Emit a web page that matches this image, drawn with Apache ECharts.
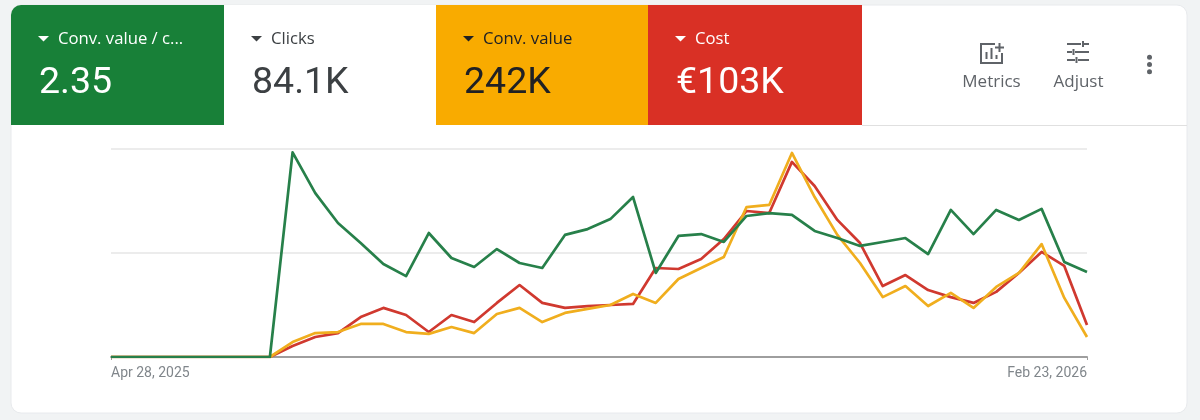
<!DOCTYPE html>
<html>
<head>
<meta charset="utf-8">
<style>html,body{margin:0;padding:0;background:#f1f3f4}#c{width:1200px;height:420px}</style>
<script src="https://cdn.jsdelivr.net/npm/echarts@6/dist/echarts.min.js"></script>
</head>
<body>
<div id="c"></div>
<script>
const categories = ['Apr 28, 2025','May 5','May 12','May 19','May 26','Jun 2','Jun 9','Jun 16','Jun 23','Jun 30','Jul 7','Jul 14','Jul 21','Jul 28','Aug 4','Aug 11','Aug 18','Aug 25','Sep 1','Sep 8','Sep 15','Sep 22','Sep 29','Oct 6','Oct 13','Oct 20','Oct 27','Nov 3','Nov 10','Nov 17','Nov 24','Dec 1','Dec 8','Dec 15','Dec 22','Dec 29','Jan 5','Jan 12','Jan 19','Jan 26','Feb 2','Feb 9','Feb 16','Feb 23, 2026'];
const convValuePerCost = [0,0,0,0,0,0,0,0,98.4,78.8,64.4,54.8,44.7,38.9,59.6,47.6,43.3,51.9,45.2,42.8,58.7,61.5,66.3,76.9,40.4,58.2,59.1,55.3,67.8,69.2,68.3,60.6,57.2,53.4,55.3,57.2,49.5,70.7,59.1,70.7,65.9,71.2,45.7,40.9];
const cost = [0,0,0,0,0,0,0,0,5.3,9.6,11.5,19.2,23.6,20.2,12,20.2,16.8,26,34.6,26,23.6,24.5,25,25.5,42.8,42.3,47.1,56.7,70.2,69.2,93.8,82.2,65.9,54.8,34.1,39.4,32.2,28.8,26,31.3,40.4,50.5,43.8,15.4];
const convValue = [0,0,0,0,0,0,0,0,7.2,11.5,12,15.9,15.9,12,11.1,14.4,11.5,20.7,23.6,16.8,21.2,23.1,25,30.3,26,37.5,42.8,48.1,72.1,73.1,98.1,76.9,58.7,45.2,28.8,34.1,24.5,30.8,23.6,33.7,40.4,54.3,28.4,9.6];
const tiles = [
  {label:'Conv. value / c...', value:'2.35', x:11, w:213, bg:'#188038', fg:'#ffffff'},
  {label:'Clicks', value:'84.1K', x:224, w:212, bg:'#ffffff', fg:'#3c4043'},
  {label:'Conv. value', value:'242K', x:436, w:212, bg:'#f9ab00', fg:'#202124'},
  {label:'Cost', value:'€103K', x:648, w:214, bg:'#d93025', fg:'#ffffff'}
];
const iconColor = '#5f6368';
const g = [];
g.push({type:'rect',z:0,shape:{x:11,y:5,width:1176,height:408,r:10},style:{fill:'#fff',stroke:'#e8eaed',lineWidth:1}});
tiles.forEach((t,i)=>{
  const r = i===0 ? [10,0,0,0] : 0;
  g.push({type:'rect',z:1,shape:{x:t.x,y:5,width:t.w,height:120,r:r},style:{fill:t.bg}});
  g.push({type:'polygon',z:2,shape:{points:[[t.x+27,36],[t.x+38,36],[t.x+32.5,41.5]]},style:{fill:t.fg}});
  g.push({type:'text',z:2,style:{x:t.x+47,y:39.5,text:t.label,fill:t.fg,font:'16.7px "Open Sans", Roboto, sans-serif',textVerticalAlign:'middle',textBaseline:'middle'}});
  g.push({type:'text',z:2,style:{x:t.x+28,y:84,text:t.value,fill:t.fg,font:'37.5px Roboto, sans-serif',textVerticalAlign:'middle',textBaseline:'middle'}});
});
g.push({type:'line',z:1,shape:{x1:862,y1:125.5,x2:1187,y2:125.5},style:{stroke:'#e0e0e0',lineWidth:1}});
const st = {fill:'none',stroke:iconColor,lineWidth:2};
g.push({type:'polyline',z:2,shape:{points:[[995,44],[981,44],[981,63],[1002,63],[1002,53]]},style:st});
g.push({type:'line',z:2,shape:{x1:986.5,y1:52,x2:986.5,y2:59},style:st});
g.push({type:'line',z:2,shape:{x1:991.5,y1:48,x2:991.5,y2:59},style:st});
g.push({type:'line',z:2,shape:{x1:996.5,y1:55,x2:996.5,y2:59},style:st});
g.push({type:'line',z:2,shape:{x1:999.5,y1:43,x2:999.5,y2:52},style:st});
g.push({type:'line',z:2,shape:{x1:995,y1:47.5,x2:1004,y2:47.5},style:st});
g.push({type:'text',z:2,style:{x:991.5,y:82.5,text:'Metrics',fill:iconColor,font:'17px "Open Sans", Roboto, sans-serif',textAlign:'center',textVerticalAlign:'middle',textBaseline:'middle'}});
[[1067,44,1081],[1084,44,1089],[1067,52,1072],[1075,52,1089],[1067,60,1075],[1078,60,1089]].forEach(a=>{
  g.push({type:'line',z:2,shape:{x1:a[0],y1:a[1],x2:a[2],y2:a[1]},style:st});
});
[[1083,41,47],[1073.5,49,55],[1076.5,57,63]].forEach(a=>{
  g.push({type:'line',z:2,shape:{x1:a[0],y1:a[1],x2:a[0],y2:a[2]},style:st});
});
g.push({type:'text',z:2,style:{x:1078.5,y:82.5,text:'Adjust',fill:iconColor,font:'17px "Open Sans", Roboto, sans-serif',textAlign:'center',textVerticalAlign:'middle',textBaseline:'middle'}});
[57.3,64.5,71.7].forEach(y=>g.push({type:'circle',z:2,shape:{cx:1149.5,cy:y,r:2.5},style:{fill:iconColor}}));

const chart = echarts.init(document.getElementById('c'));
const mk = (name,data,color)=>({name,type:'line',data,symbol:'none',smooth:false,lineStyle:{color,width:2.7,join:'round'},itemStyle:{color},animation:false,z:5});
const edgeOnly = (i)=>i===0||i===categories.length-1;
chart.setOption({
  animation:false,
  backgroundColor:'#f1f3f4',
  graphic:{elements:g},
  grid:{left:111,right:113,top:149,bottom:63,containLabel:false},
  xAxis:{type:'category',data:categories,boundaryGap:false,
    axisLine:{lineStyle:{color:'#9e9e9e',width:2}},
    axisTick:{show:true,interval:edgeOnly,length:3,lineStyle:{color:'#9e9e9e',width:1}},
    axisLabel:{color:'#80868b',fontSize:14,fontFamily:'Roboto, sans-serif',margin:9,
      interval:edgeOnly,
      alignMinLabel:'left',alignMaxLabel:'right',showMinLabel:true,showMaxLabel:true}},
  yAxis:{type:'value',min:0,max:100,interval:50,
    axisLine:{show:false},axisTick:{show:false},axisLabel:{show:false},
    splitLine:{lineStyle:{color:'#ececec',width:2}}},
  series:[mk('Cost',cost,'#d0392f'),mk('Conv. value',convValue,'#f0ae1e'),mk('Conv. value / cost',convValuePerCost,'#27804a')]
});
</script>
</body>
</html>
